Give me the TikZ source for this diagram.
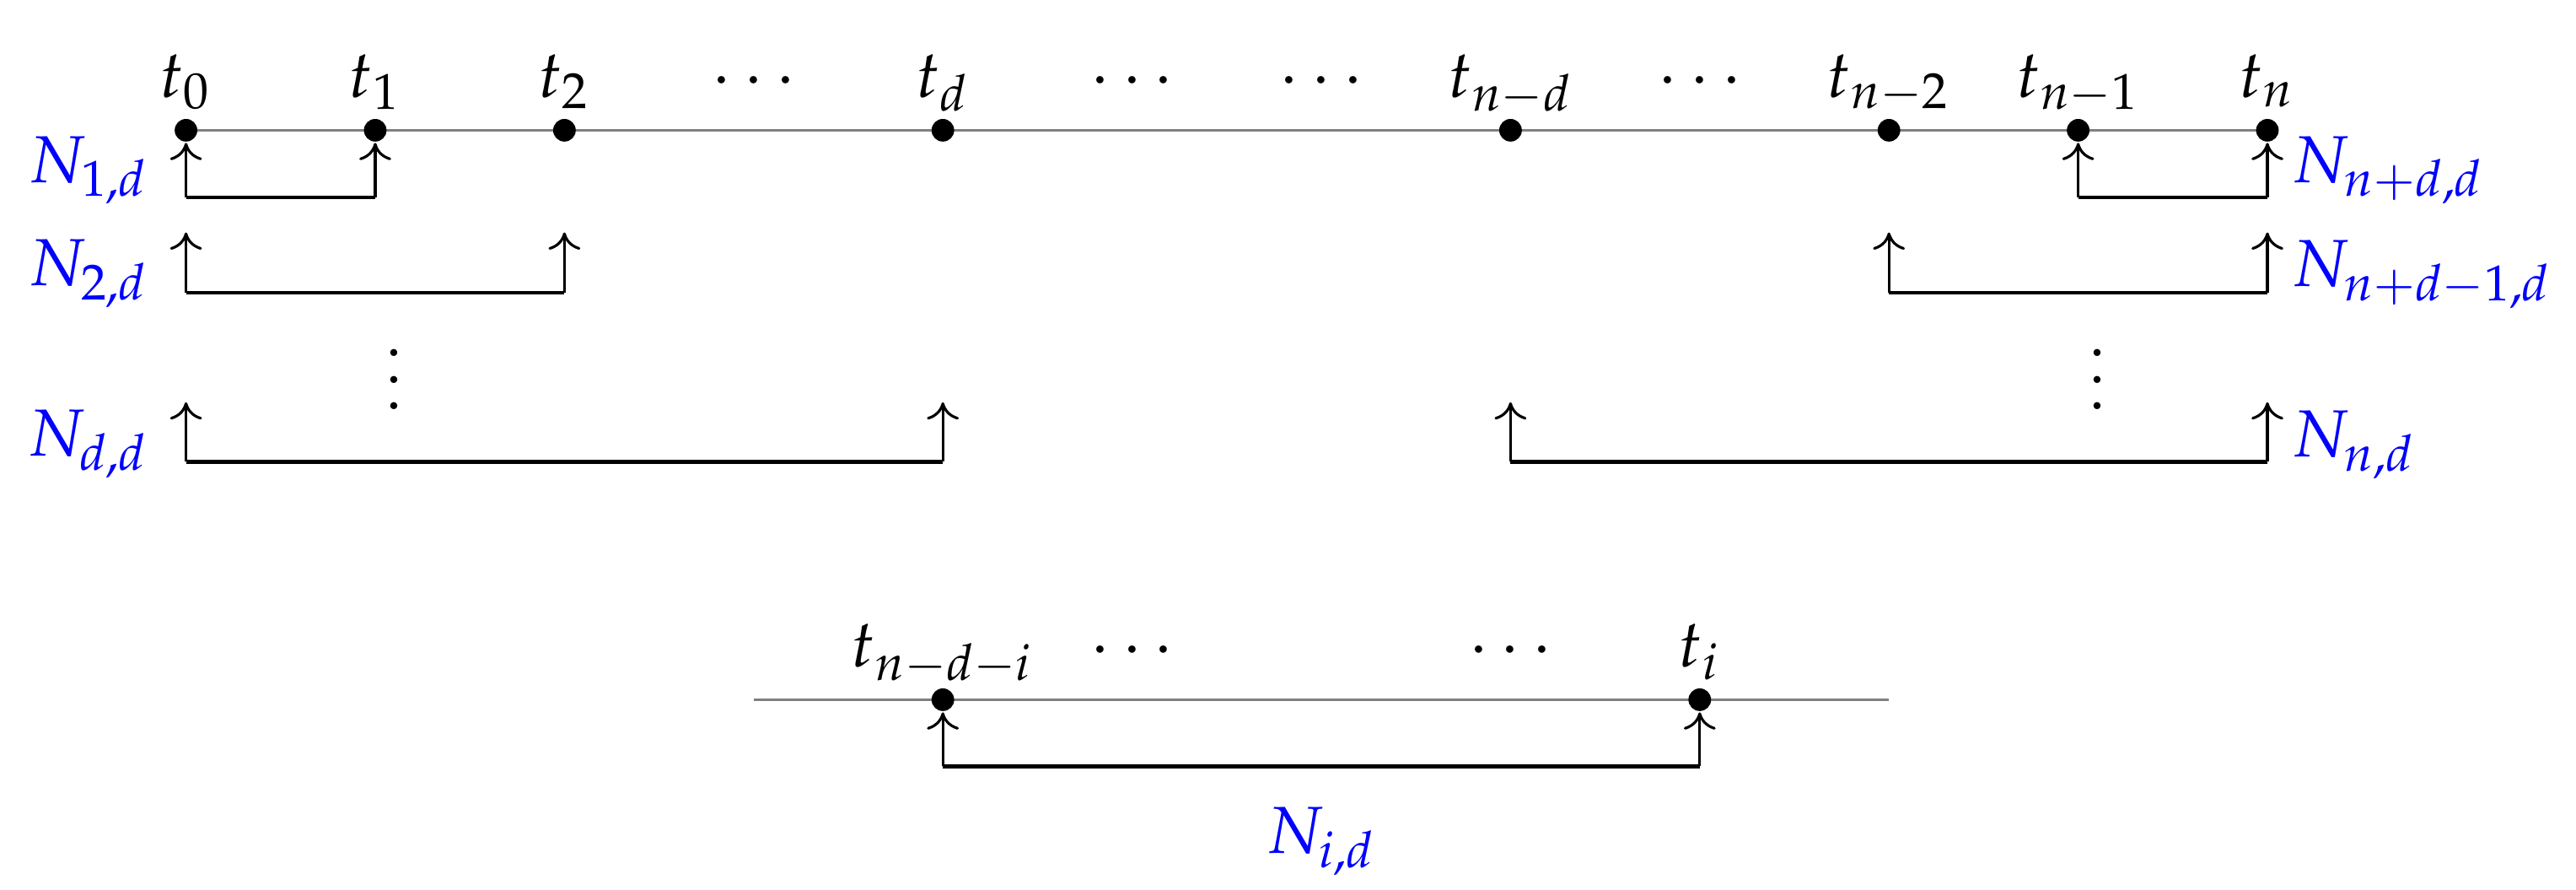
\documentclass[tikz,border=0pt]{standalone}
\usepackage{mathpazo}
\usetikzlibrary{arrows.meta}
\tikzset{
  knot/.style={circle,fill=black,inner sep=0pt,minimum size=3.4pt},
  tlabel/.style={anchor=base,inner sep=0pt},
  nlabL/.style={anchor=base east,inner sep=0pt,text=blue},
  nlabR/.style={anchor=base west,inner sep=0pt,text=blue},
  nlabC/.style={anchor=base,inner sep=0pt,text=blue},
  axisline/.style={draw=gray,line width=0.45pt},
  uparrow/.style={-{Computer Modern Rightarrow[width=4.8pt,length=2.6pt]},line width=0.4pt},
  barline/.style={line width=0.55pt},
}
\begin{document}
\begin{tikzpicture}
\useasboundingbox (-0.983,0.688) rectangle (12.631,-4.013);
% main axis
\coordinate (A0) at (0,0);
\coordinate (A11) at (11,0);
\draw[axisline] (A0) -- (A11);
\node[knot] (t0) at (0,0) {};
\node[knot] (t1) at (1,0) {};
\node[knot] (t2) at (2,0) {};
\node[knot] (td) at (4,0) {};
\node[knot] (tnd) at (7,0) {};
\node[knot] (tn2) at (9,0) {};
\node[knot] (tn1) at (10,0) {};
\node[knot] (tn) at (11,0) {};
% labels on axis
\node[tlabel] (lt0) at (0,0.175) {$t_0$};
\node[tlabel] (lt1) at (1,0.175) {$t_1$};
\node[tlabel] (lt2) at (2,0.175) {$t_2$};
\node[tlabel] (d1) at (3,0.175) {$\cdots$};
\node[tlabel] (ltd) at (4,0.175) {$t_d$};
\node[tlabel] (d2) at (5,0.175) {$\cdots$};
\node[tlabel] (d3) at (6,0.175) {$\cdots$};
\node[tlabel] (ltnd) at (7,0.175) {$t_{n-d}$};
\node[tlabel] (d4) at (8,0.175) {$\cdots$};
\node[tlabel] (ltn2) at (9,0.175) {$t_{n-2}$};
\node[tlabel] (ltn1) at (10,0.175) {$t_{n-1}$};
\node[tlabel] (ltn) at (11,0.175) {$t_n$};
% left brackets
\coordinate (L1a) at (0,-0.354);
\coordinate (L1b) at (1,-0.354);
\draw[uparrow] (L1a) -- (t0);
\draw[uparrow] (L1b) -- (t1);
\draw[barline] (L1a) -- (L1b);
\coordinate (L2a) at (0,-0.857);
\coordinate (L2b) at (2,-0.857);
\coordinate (L2at) at (0,-0.540);
\coordinate (L2bt) at (2,-0.540);
\draw[uparrow] (L2a) -- (L2at);
\draw[uparrow] (L2b) -- (L2bt);
\draw[barline] (L2a) -- (L2b);
\coordinate (L3a) at (0,-1.751);
\coordinate (L3b) at (4,-1.751);
\coordinate (L3at) at (0,-1.437);
\coordinate (L3bt) at (4,-1.437);
\draw[uparrow] (L3a) -- (L3at);
\draw[uparrow] (L3b) -- (L3bt);
\draw[barline] (L3a) -- (L3b);
% right brackets
\coordinate (R1a) at (10,-0.354);
\coordinate (R1b) at (11,-0.354);
\draw[uparrow] (R1a) -- (tn1);
\draw[uparrow] (R1b) -- (tn);
\draw[barline] (R1a) -- (R1b);
\coordinate (R2a) at (9,-0.857);
\coordinate (R2b) at (11,-0.857);
\coordinate (R2at) at (9,-0.540);
\coordinate (R2bt) at (11,-0.540);
\draw[uparrow] (R2a) -- (R2at);
\draw[uparrow] (R2b) -- (R2bt);
\draw[barline] (R2a) -- (R2b);
\coordinate (R3a) at (7,-1.751);
\coordinate (R3b) at (11,-1.751);
\coordinate (R3at) at (7,-1.437);
\coordinate (R3bt) at (11,-1.437);
\draw[uparrow] (R3a) -- (R3at);
\draw[uparrow] (R3b) -- (R3bt);
\draw[barline] (R3a) -- (R3b);
% bracket labels
\node[nlabL] (N1) at (-0.19,-0.275) {$N_{1,d}$};
\node[nlabL] (N2) at (-0.19,-0.821) {$N_{2,d}$};
\node[nlabL] (Nd) at (-0.19,-1.722) {$N_{d,d}$};
\node[nlabR] (Nnd) at (11.12,-0.275) {$N_{n+d,d}$};
\node[nlabR] (Nnd1) at (11.12,-0.826) {$N_{n+d-1,d}$};
\node[nlabR] (Nn) at (11.12,-1.725) {$N_{n,d}$};
\node[tlabel] (vd1) at (1.1,-1.476) {$\vdots$};
\node[tlabel] (vd2) at (10.1,-1.476) {$\vdots$};
% bottom part
\coordinate (B0) at (3,-3.008);
\coordinate (B1) at (9,-3.008);
\draw[axisline] (B0) -- (B1);
\node[knot] (tndi) at (4,-3.008) {};
\node[knot] (ti) at (8,-3.008) {};
\node[tlabel] (ltndi) at (4,-2.833) {$t_{n-d-i}$};
\node[tlabel] (d5) at (5,-2.833) {$\cdots$};
\node[tlabel] (d6) at (7,-2.833) {$\cdots$};
\node[tlabel] (lti) at (8,-2.833) {$t_i$};
\coordinate (Ba) at (4,-3.36);
\coordinate (Bb) at (8,-3.36);
\draw[uparrow] (Ba) -- (tndi);
\draw[uparrow] (Bb) -- (ti);
\draw[barline] (Ba) -- (Bb);
\node[nlabC] (Ni) at (6,-3.82) {$N_{i,d}$};
\end{tikzpicture}
\end{document}
